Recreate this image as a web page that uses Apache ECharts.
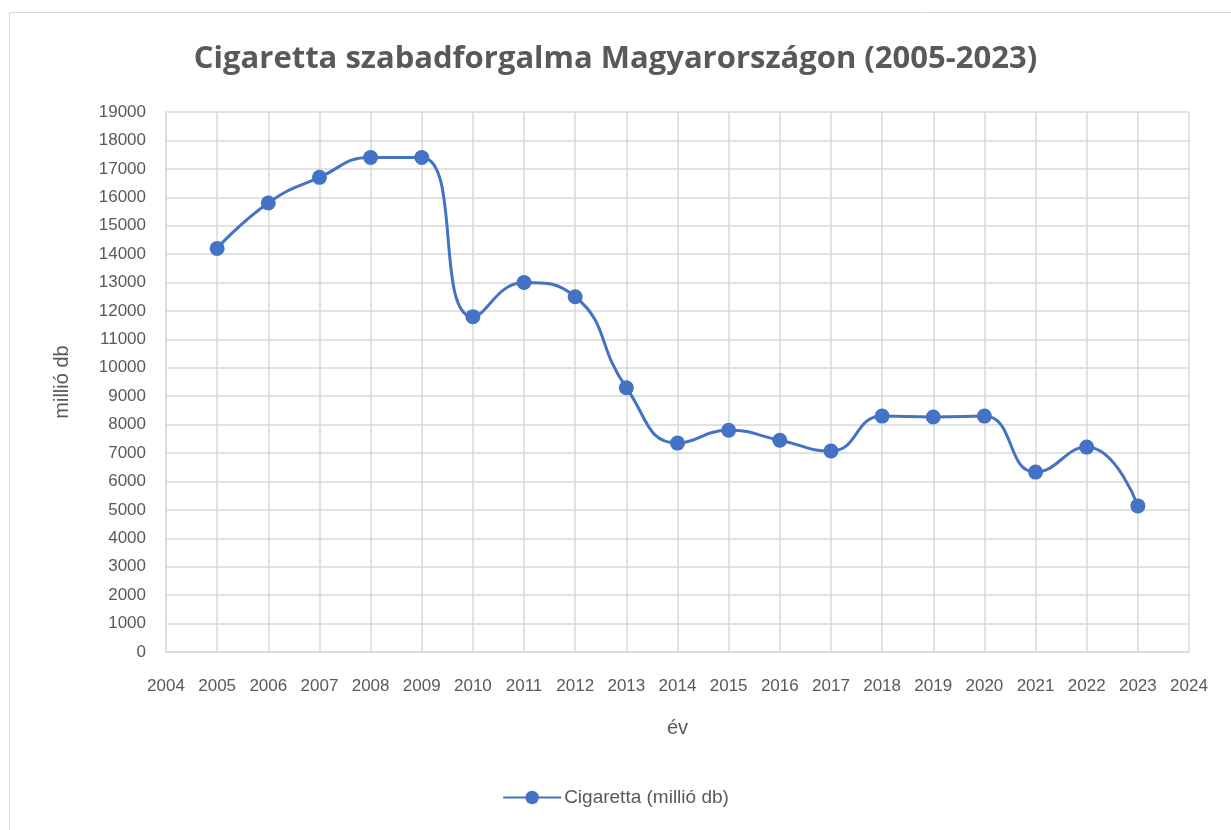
<!DOCTYPE html>
<html><head><meta charset="utf-8">
<script src="https://cdn.jsdelivr.net/npm/echarts@6/dist/echarts.min.js"></script>
<style>html,body{margin:0;padding:0;background:#fff}#c{width:1231px;height:830px}</style>
</head><body><div id="c"></div>
<script>
const years = [2005,2006,2007,2008,2009,2010,2011,2012,2013,2014,2015,2016,2017,2018,2019,2020,2021,2022,2023];
const cigaretta = [14200,15800,16700,17400,17400,11800,13000,12500,9300,7350,7800,7450,7070,8300,8270,8300,6330,7210,5140];
const seriesName = 'Cigaretta (millió db)';
const titleText = 'Cigaretta szabadforgalma Magyarországon (2005-2023)';
const xName = 'év';
const yName = 'millió db';

const font = '"Liberation Sans", sans-serif';
const chart = echarts.init(document.getElementById('c'));
chart.setOption({
  animation: false,
  graphic: [{type:'rect', shape:{x:9.5,y:12.5,width:1240,height:840}, style:{fill:'none', stroke:'#d9d9d9', lineWidth:1}}],
  title: {text: titleText, left: 'center', top: 39,
    textStyle:{fontFamily:'"Open Sans", sans-serif', fontWeight:'bold', fontSize:31, color:'#595959'}},
  grid: {left:166, right:42, top:112, bottom:178},
  legend: {bottom: 18, left: 'center', itemWidth: 58, itemHeight: 17, itemGap: 4,
    textStyle:{fontFamily:font, fontSize:19, color:'#595959', padding:[0,0,0,-2]}, data:[seriesName]},
  xAxis: {type:'value', min:2004, max:2024, interval:1, name:xName, nameLocation:'middle', nameGap:66,
    nameTextStyle:{fontFamily:font, fontSize:20, color:'#595959'},
    axisLine:{lineStyle:{color:'#d9d9d9', width:1.5}}, axisTick:{show:false},
    splitLine:{show:true, lineStyle:{color:'#d9d9d9', width:1.5}},
    axisLabel:{fontFamily:font, fontSize:17, color:'#595959', margin:26, formatter: v => String(v), showMinLabel:true, showMaxLabel:true, hideOverlap:false}},
  yAxis: {type:'value', min:0, max:19000, interval:1000, name:yName, nameLocation:'middle', nameGap:94,
    nameTextStyle:{fontFamily:font, fontSize:20, color:'#595959'},
    axisLine:{show:true, lineStyle:{color:'#d9d9d9', width:1.5}}, axisTick:{show:false},
    splitLine:{lineStyle:{color:'#d9d9d9', width:1.5}},
    axisLabel:{fontFamily:font, fontSize:17, color:'#595959', margin:20, formatter: v => String(v)}},
  series: [{name: seriesName, type:'line', smooth:0.5, data: years.map((y,i)=>[y, cigaretta[i]]),
    symbol:'circle', symbolSize:15, lineStyle:{color:'#4472c4', width:3}, itemStyle:{color:'#4472c4'}}]
});
</script></body></html>
